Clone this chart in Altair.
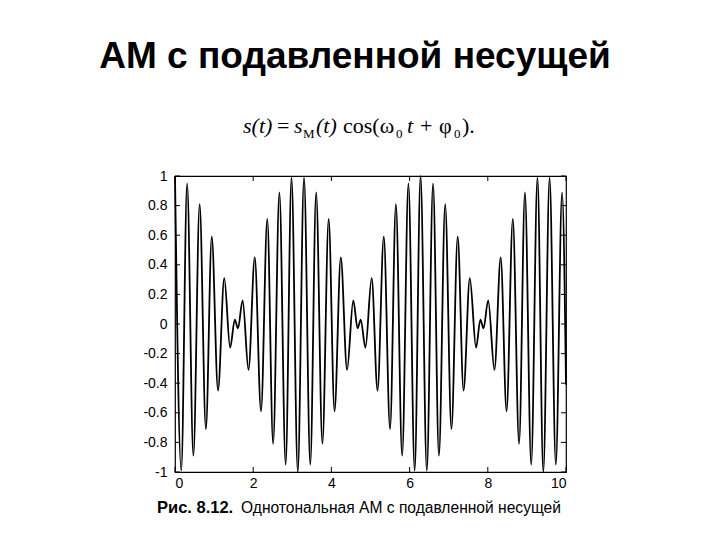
import altair as alt
import pandas as pd

# ---- data (extrema of the waveform) ----
t_pts = [0.00, 0.16, 0.31, 0.47, 0.63, 0.79, 0.94, 1.10, 1.26, 1.41,
         1.53, 1.61,
         1.73, 1.88, 2.04, 2.20, 2.36, 2.51, 2.67, 2.83, 2.98, 3.14, 3.30, 3.46, 3.61, 3.77, 3.93, 4.08, 4.24, 4.40, 4.56,
         4.67, 4.75,
         4.87, 5.03, 5.18, 5.34, 5.50, 5.65, 5.81, 5.97, 6.13, 6.28, 6.44, 6.60, 6.75, 6.91, 7.07, 7.23, 7.38, 7.54, 7.70,
         7.81, 7.89,
         8.01, 8.17, 8.33, 8.48, 8.64, 8.80, 8.95, 9.11, 9.27, 9.42, 9.58, 9.74, 9.90, 10.00]
s_pts = [1.00, -0.99, 0.95, -0.89, 0.81, -0.71, 0.59, -0.45, 0.31, -0.16,
         0.03, -0.03,
         0.16, -0.31, 0.45, -0.59, 0.71, -0.81, 0.89, -0.95, 0.99, -1.00, 0.99, -0.95, 0.89, -0.81, 0.71, -0.59, 0.45, -0.31, 0.16,
         -0.03, 0.03,
         -0.16, 0.31, -0.45, 0.59, -0.71, 0.81, -0.89, 0.95, -0.99, 1.00, -0.99, 0.95, -0.89, 0.81, -0.71, 0.59, -0.45, 0.31, -0.16,
         0.03, -0.03,
         0.16, -0.31, 0.45, -0.59, 0.71, -0.81, 0.89, -0.95, 0.99, -1.00, 0.99, -0.95, 0.89, -0.41]

x_ticks = [0, 2, 4, 6, 8, 10]
y_ticks = [-1, -0.8, -0.6, -0.4, -0.2, 0, 0.2, 0.4, 0.6, 0.8, 1]

title_text = "АМ с подавленной несущей"
caption_bold = "Рис. 8.12."
caption_text = "Однотональная АМ с подавленной несущей"

W, H = 391, 296
TL = 5  # inward tick length

xs = alt.Scale(domain=[0, 10], nice=False, zero=False)
ys = alt.Scale(domain=[-1, 1], nice=False, zero=False)
x_axis = alt.Axis(values=x_ticks, title=None, labelPadding=4,
                  labelExpr="'' + datum.value", labelOverlap=False)
y_axis = alt.Axis(values=y_ticks, title=None, labelPadding=8,
                  labelExpr="'' + datum.value", labelOverlap=False)

sig = pd.DataFrame({"t": t_pts, "s": s_pts})
xt = pd.DataFrame({"v": x_ticks})
yt = pd.DataFrame({"v": y_ticks})

line = alt.Chart(sig).mark_line(color="black", strokeWidth=1.8, interpolate="monotone").encode(
    x=alt.X("t:Q", scale=xs, axis=x_axis),
    y=alt.Y("s:Q", scale=ys, axis=y_axis),
)

tick_bottom = alt.Chart(xt).mark_rule(color="black", strokeWidth=1).encode(
    x=alt.X("v:Q", scale=xs, axis=x_axis), y=alt.value(H), y2=alt.value(H - TL))
tick_top = alt.Chart(xt).mark_rule(color="black", strokeWidth=1).encode(
    x=alt.X("v:Q", scale=xs, axis=x_axis), y=alt.value(0), y2=alt.value(TL))
tick_left = alt.Chart(yt).mark_rule(color="black", strokeWidth=1).encode(
    y=alt.Y("v:Q", scale=ys, axis=y_axis), x=alt.value(0), x2=alt.value(TL))
tick_right = alt.Chart(yt).mark_rule(color="black", strokeWidth=1).encode(
    y=alt.Y("v:Q", scale=ys, axis=y_axis), x=alt.value(W), x2=alt.value(W - TL))


def txt(s, x, y, size, font, weight="normal", style="normal", align="left"):
    return alt.Chart(pd.DataFrame({"s": [s]})).mark_text(
        font=font, fontSize=size, fontWeight=weight, fontStyle=style,
        align=align, baseline="alphabetic", color="black"
    ).encode(text="s:N", x=alt.value(x), y=alt.value(y))


SERIF = "Liberation Serif"
SANS = "Liberation Sans"
OX = 175  # page x of plot origin
FY = -43  # formula baseline
SY = -38  # subscript baseline
texts = [
    txt(title_text, 355 - OX, -108, 37, SANS, weight="bold", align="center"),
    # formula s(t) = s_M(t) cos(w0 t + phi0).
    txt("s(t)", 243 - OX, FY, 22, SERIF, style="italic"),
    txt("=", 277 - OX, FY, 22, SERIF),
    txt("s", 294 - OX, FY, 22, SERIF, style="italic"),
    txt("M", 303 - OX, SY, 13, SERIF),
    txt("(t)", 316 - OX, FY, 22, SERIF, style="italic"),
    txt("cos(ω", 343 - OX, FY, 22, SERIF),
    txt("0", 396 - OX, SY, 13, SERIF),
    txt("t", 407 - OX, FY, 22, SERIF, style="italic"),
    txt("+", 420 - OX, FY, 22, SERIF),
    txt("φ", 439 - OX, FY, 22, SERIF),
    txt("0", 454 - OX, SY, 13, SERIF),
    txt(").", 462 - OX, FY, 22, SERIF),
    # caption
    txt(caption_bold, 157 - OX, 337, 16.5, SANS, weight="bold"),
    txt(caption_text, 241 - OX, 337, 15.6, SANS),
]

chart = alt.layer(line, tick_bottom, tick_top, tick_left, tick_right, *texts).properties(
    width=W, height=H,
    autosize=alt.AutoSizeParams(type="none"),
    padding={"left": 167, "top": 168, "right": 146, "bottom": 60},
    background="white",
).configure_view(
    stroke="black", strokeWidth=1.2
).configure_axis(
    grid=False, domain=False, ticks=False, labelOverlap=False,
    labelFont=SANS, labelFontSize=14, labelColor="black",
)

chart.save("out.html", embed_options={"renderer": "svg", "actions": False})
